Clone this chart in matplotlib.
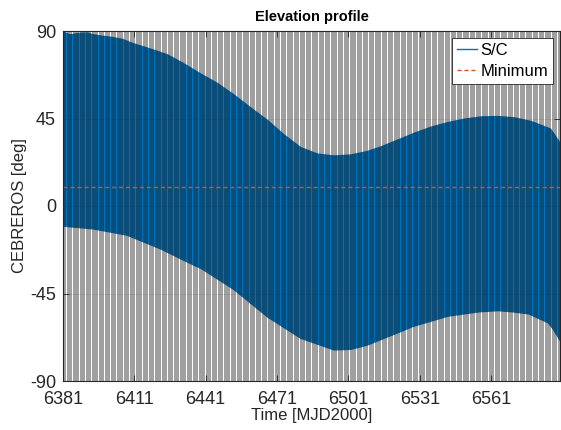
import numpy as np
import matplotlib
matplotlib.use("Agg")
import matplotlib.pyplot as plt

# ---- data ----
upper_days = [6381, 6384, 6388, 6391, 6394, 6397, 6401, 6406, 6410, 6418, 6425, 6432,
              6439, 6446, 6453, 6460, 6467, 6474, 6481, 6488, 6495, 6502, 6509, 6515,
              6522, 6529, 6536, 6543, 6550, 6557, 6564, 6571, 6578, 6586, 6590]
upper_elev = [89.5, 88.0, 88.8, 89.0, 88.0, 87.4, 86.8, 85.7, 83.7, 80.6, 77.7, 73.0,
              67.8, 63.0, 57.0, 50.4, 44.0, 36.5, 30.0, 26.7, 25.7, 26.2, 28.0, 30.5,
              34.0, 37.5, 40.6, 42.9, 44.7, 45.8, 46.0, 45.3, 43.4, 39.6, 32.4]
lower_days = [6381, 6394, 6408, 6422, 6436, 6439, 6453, 6467, 6481, 6495, 6502, 6509,
              6514, 6523, 6528, 6543, 6556, 6564, 6570, 6577, 6585, 6587, 6590]
lower_elev = [-10.3, -11.8, -15.0, -22.0, -30.4, -32.0, -43.0, -57.0, -68.0, -74.0, -73.7,
              -71.5, -69.0, -64.6, -62.0, -56.6, -54.4, -53.8, -54.4, -55.5, -60.0, -63.0, -69.0]
min_elev = 10.0
x_start, x_end = 6381, 6590
xtick_vals = [6381, 6411, 6441, 6471, 6501, 6531, 6561]
ytick_vals = [-90, -45, 0, 45, 90]

blue = "#0072BD"
orange = "#D95319"
axc = "#262626"

plt.rcParams["font.family"] = ["Liberation Sans", "DejaVu Sans"]
plt.rcParams["axes.unicode_minus"] = False

fig = plt.figure(figsize=(5.61, 4.30), dpi=100)
ax = fig.add_axes([63/561, 49/430, (560-63)/561, (381-31)/430])

# band of the daily oscillation: polygon from daily-max envelope and daily-min envelope
poly_x = list(upper_days) + list(lower_days[::-1])
poly_y = list(upper_elev) + list(lower_elev[::-1])
ax.fill(poly_x, poly_y, color=blue, lw=0, zorder=2)
ax.plot(upper_days, upper_elev, color=blue, lw=1.0, zorder=2, label="S/C")
ax.plot(lower_days, lower_elev, color=blue, lw=1.0, zorder=2)

# dense grid lines (every half day)
gx = x_start + 0.5 * np.arange(int((x_end - x_start) / 0.5) + 1)
ax.vlines(gx, -90, 90, colors="#1a1a1a", lw=0.62, alpha=0.48, zorder=4)
for yv in ytick_vals:
    ax.axhline(yv, color=axc, lw=0.5, alpha=0.15, zorder=4)

ax.plot([x_start, x_end], [min_elev, min_elev], color=orange, lw=1.0,
        ls=(0, (3, 2)), zorder=5, label="Minimum")

ax.set_xlim(x_start, x_end)
ax.set_ylim(-90, 90)
ax.set_xticks(xtick_vals)
ax.set_yticks(ytick_vals)
ax.tick_params(direction="in", length=4, width=0.6, colors=axc, labelsize=13,
               top=True, right=True)
ax.tick_params(axis="x", pad=7)
ax.tick_params(axis="y", pad=5)
for s in ax.spines.values():
    s.set_color(axc)
    s.set_linewidth(0.8)
    s.set_zorder(6)

ax.set_title("Elevation profile", fontsize=10.5, fontweight="bold", color="black", pad=7)
ax.set_xlabel("Time [MJD2000]", fontsize=12, color=axc, labelpad=0)
ax.set_ylabel("CEBREROS [deg]", fontsize=12, color=axc, labelpad=2)

leg = ax.legend(loc="upper right", fontsize=12, frameon=True, fancybox=False,
                edgecolor=axc, framealpha=1, borderpad=0.3, labelspacing=0.35,
                handlelength=1.2, handletextpad=0.2, borderaxespad=0.4)
leg.get_frame().set_linewidth(0.6)
leg.set_zorder(10)

fig.savefig("out.png", dpi=100)
